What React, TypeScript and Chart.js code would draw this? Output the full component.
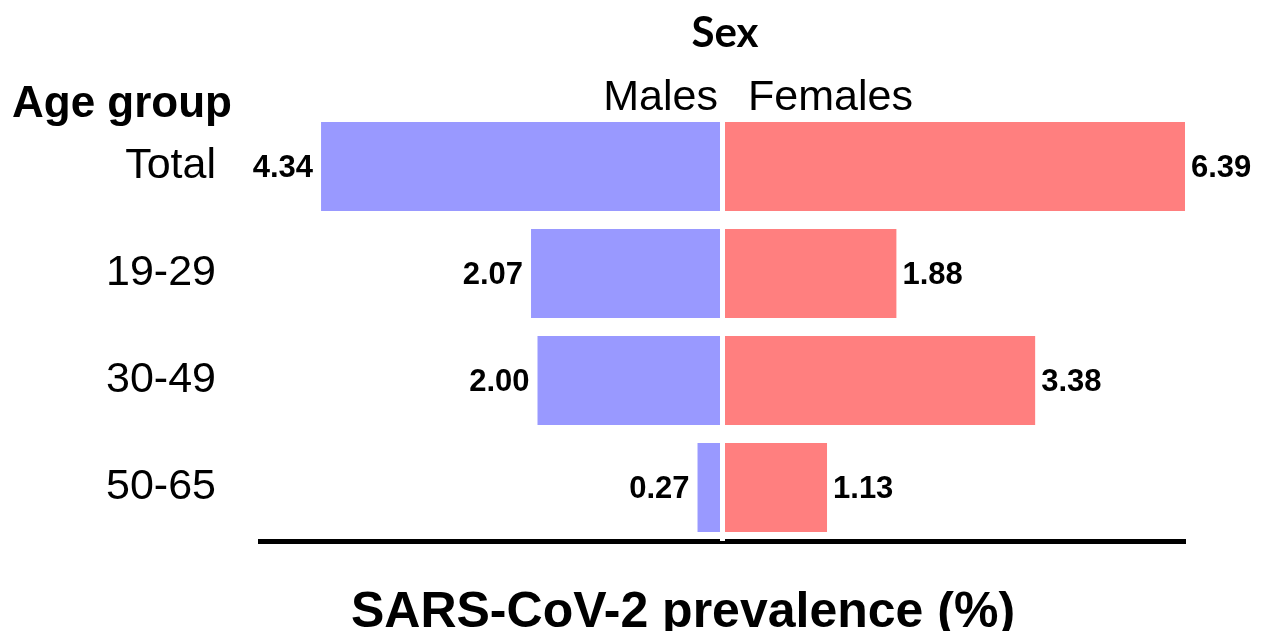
import React, { useEffect, useRef } from "react";
import { Chart, registerables } from "chart.js";

Chart.register(...registerables);

// ---- data ----
const ageGroups = ["Total", "19-29", "30-49", "50-65"];
const malesPrevalence = [4.34, 2.07, 2.0, 0.27];
const femalesPrevalence = [6.39, 1.88, 3.38, 1.13];
const seriesNames = ["Males", "Females"];
const axisLimit = 5;

const MALE_COLOR = "#9999FF";
const FEMALE_COLOR = "#FF7F7F";
const SANS = "'Liberation Sans', Arial, sans-serif";

const decorPlugin = {
  id: "decor",
  afterDatasetsDraw(chart: any) {
    const { ctx, chartArea } = chart;
    const xs = chart.scales.x;
    ctx.save();
    // white gap at zero
    const x0 = xs.getPixelForValue(0);
    ctx.fillStyle = "#ffffff";
    ctx.fillRect(x0 - 2.5, chartArea.top, 5, chartArea.bottom - chartArea.top);

    // value labels
    ctx.fillStyle = "#000";
    ctx.font = `bold 31px ${SANS}`;
    ctx.textBaseline = "middle";
    chart.data.datasets.forEach((ds: any, di: number) => {
      const meta = chart.getDatasetMeta(di);
      meta.data.forEach((bar: any, i: number) => {
        const raw = di === 0 ? malesPrevalence[i] : femalesPrevalence[i];
        const text = raw.toFixed(2);
        const y = bar.y + 2;
        if (di === 0) {
          const xEnd = Math.max(bar.x, chartArea.left);
          ctx.textAlign = "right";
          ctx.fillText(text, xEnd - 8, y);
        } else {
          const xEnd = Math.min(bar.x, chartArea.right);
          ctx.textAlign = "left";
          ctx.fillText(text, xEnd + 6, y);
        }
      });
    });

    // headings
    ctx.textBaseline = "alphabetic";
    ctx.textAlign = "center";
    ctx.font = `bold 42px Lato, 'Open Sans', sans-serif`;
    ctx.fillText("Sex", 725, 47);

    ctx.font = `43px ${SANS}`;
    ctx.textAlign = "right";
    ctx.fillText(seriesNames[0], 718, 110);
    ctx.textAlign = "left";
    ctx.fillText(seriesNames[1], 748, 110);

    ctx.font = `bold 44px ${SANS}`;
    ctx.textAlign = "left";
    ctx.fillText("Age group", 12, 117);

    ctx.font = `bold 50px ${SANS}`;
    ctx.textAlign = "center";
    ctx.fillText("SARS-CoV-2 prevalence (%)", 683, 627);
    ctx.restore();
  },
};

export default function App() {
  const canvasRef = useRef<HTMLCanvasElement | null>(null);

  useEffect(() => {
    if (!canvasRef.current) return;
    const chart = new Chart(canvasRef.current, {
      type: "bar",
      data: {
        labels: ageGroups,
        datasets: [
          {
            label: seriesNames[0],
            data: malesPrevalence.map((v) => -v),
            backgroundColor: MALE_COLOR,
            borderWidth: 0,
            barPercentage: 0.833,
            categoryPercentage: 1,
          },
          {
            label: seriesNames[1],
            data: femalesPrevalence,
            backgroundColor: FEMALE_COLOR,
            borderWidth: 0,
            barPercentage: 0.833,
            categoryPercentage: 1,
          },
        ],
      },
      options: {
        indexAxis: "y",
        responsive: false,
        animation: false,
        layout: { padding: { top: 113, right: 78, left: 0, bottom: 0 } },
        scales: {
          x: {
            min: -axisLimit,
            max: axisLimit,
            stacked: true,
            grid: { display: false, drawTicks: false },
            ticks: { display: false },
            border: { display: true, color: "#000", width: 5 },
            afterFit: (s: any) => {
              s.height = 90;
            },
          },
          y: {
            stacked: true,
            grid: { display: false, drawTicks: false },
            border: { display: false },
            ticks: {
              color: "#000",
              font: { family: SANS, size: 43 },
              padding: 44,
            },
            afterFit: (s: any) => {
              s.width = 260;
            },
          },
        },
        plugins: {
          legend: { display: false },
          tooltip: { enabled: false },
        },
      },
      plugins: [decorPlugin],
    } as any);
    return () => chart.destroy();
  }, []);

  return (
    <div style={{ position: "fixed", left: 0, top: 0, width: 1263, height: 631, background: "#fff" }}>
      <canvas ref={canvasRef} width={1263} height={631} style={{ display: "block" }} />
    </div>
  );
}
